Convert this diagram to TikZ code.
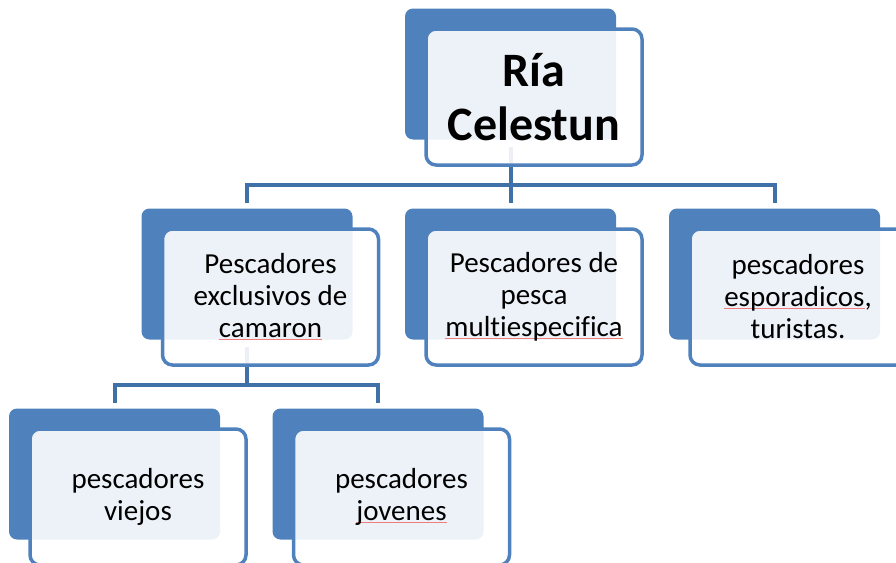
\documentclass[tikz,border=0pt]{standalone}
\usepackage{fontspec}
\setmainfont{Carlito}[Ligatures=NoCommon]
\definecolor{boxblue}{HTML}{4F81BD}
\definecolor{linkblue}{HTML}{4070A8}
\definecolor{spellred}{HTML}{F07C7C}
\newcommand\spellmark[1]{{\setbox0\hbox{#1}\rlap{\color{spellred}\rule[-2.5pt]{\wd0}{1pt}}\box0}}
\tikzset{
  backbox/.style={fill=boxblue, draw=none, rounded corners=8pt, minimum width=211pt, minimum height=131pt, inner sep=0pt},
  frontbox/.style={draw=boxblue, line width=3.5pt, fill=white, fill opacity=0.9, text opacity=1, rounded corners=10pt,
    minimum width=216pt, minimum height=136pt, inner sep=0pt, align=center, font=\fontsize{29}{32}\selectfont},
  titlebox/.style={frontbox, font=\fontsize{48}{54}\selectfont\bfseries},
  conn/.style={draw=linkblue, line width=4pt}
}
\begin{document}
\begin{tikzpicture}[x=1pt,y=-1pt]
\useasboundingbox (0,0) rectangle (896,562);
\clip (0,0) rectangle (896,562);
% back boxes
\node[backbox] (Tb) at (510.5,74) {};
\node[backbox] (Ab) at (247,274) {};
\node[backbox] (Bb) at (510.5,274) {};
\node[backbox] (Cb) at (774.5,274) {};
\node[backbox] (Db) at (114.5,474) {};
\node[backbox] (Eb) at (378,474) {};
% connectors
\coordinate (h1) at (510.5,185);
\coordinate (h2) at (247,385);
\draw[conn] ([yshift=-7pt]Tb.south) -- ([yshift=5pt]Bb.north);
\draw[conn] ([yshift=5pt]Ab.north) |- (h1) -| ([yshift=5pt]Cb.north);
\draw[conn] ([yshift=-7pt]Ab.south) -- (h2);
\draw[conn] ([yshift=5pt]Db.north) |- (h2) -| ([yshift=5pt]Eb.north);
% front boxes
\node[titlebox] (T) at ([xshift=23.5pt,yshift=-23pt]Tb.center) {Ría\\Celestun};
\node[frontbox] (A) at ([xshift=23.5pt,yshift=-23pt]Ab.center) {Pescadores\\exclusivos de\\\spellmark{camaron}};
\node[frontbox] (B) at ([xshift=23.5pt,yshift=-23pt]Bb.center) {Pescadores de\\pesca\\\spellmark{multiespecifica}};
\node[frontbox] (C) at ([xshift=23.5pt,yshift=-23pt]Cb.center) {pescadores\\\spellmark{esporadicos},\\turistas.};
\node[frontbox] (D) at ([xshift=23.5pt,yshift=-23pt]Db.center) {pescadores\\viejos};
\node[frontbox] (E) at ([xshift=23.5pt,yshift=-23pt]Eb.center) {pescadores\\\spellmark{jovenes}};
\end{tikzpicture}
\end{document}
